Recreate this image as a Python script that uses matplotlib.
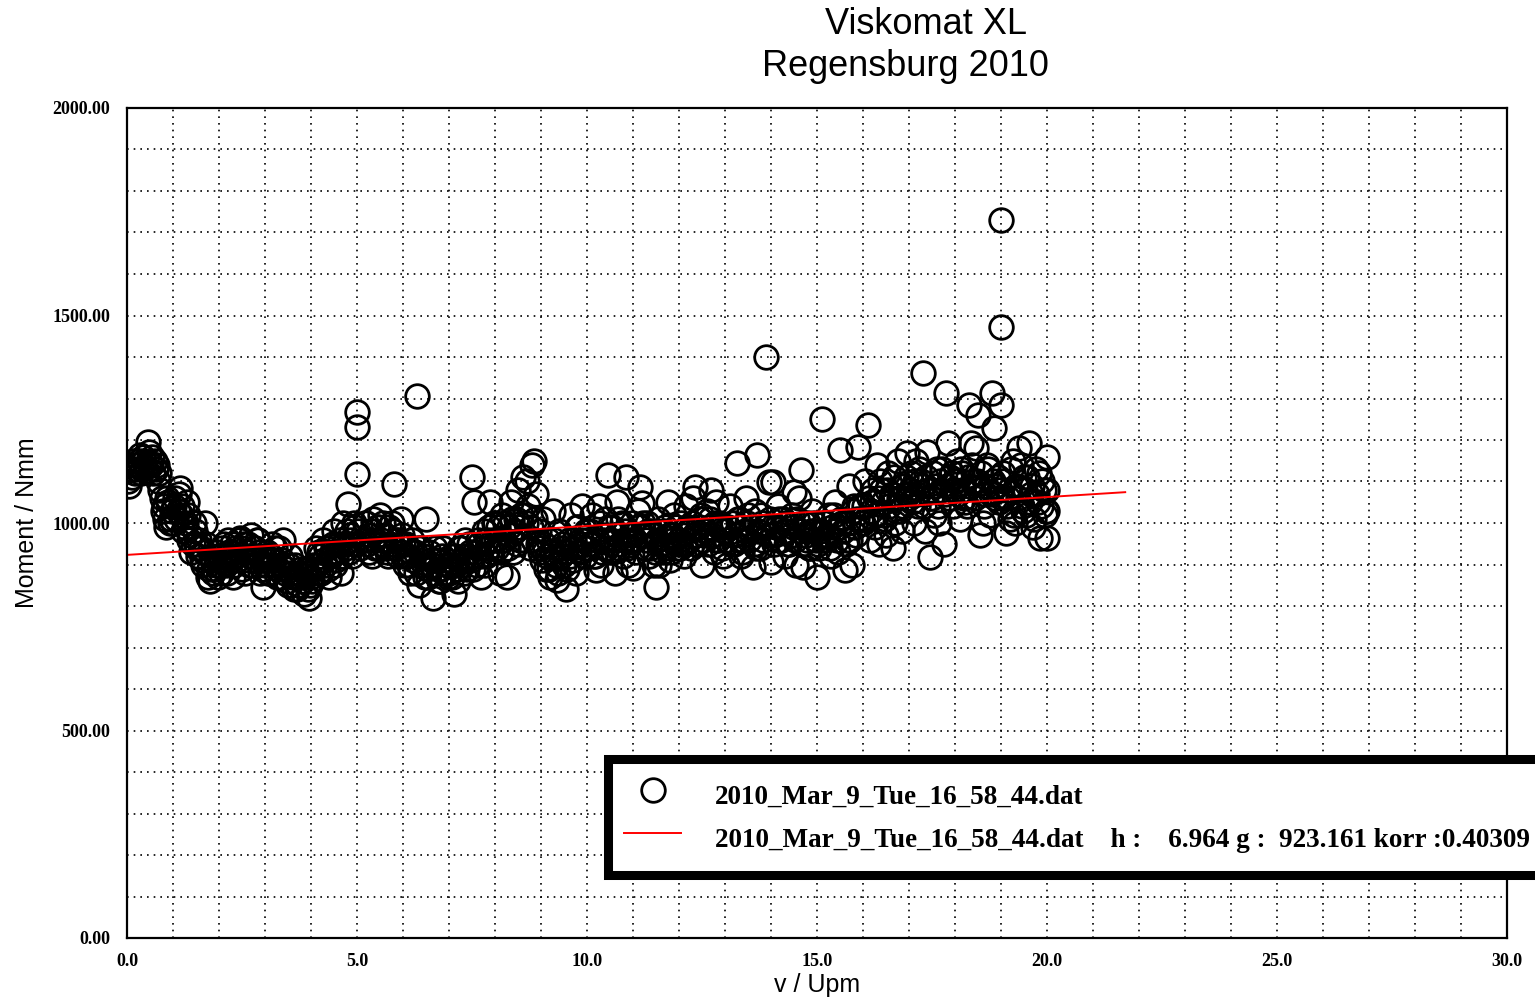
import matplotlib
matplotlib.use("Agg")
import matplotlib.pyplot as plt
from matplotlib.font_manager import FontProperties
from matplotlib.ticker import MultipleLocator, FormatStrFormatter

v_upm = [
    0.00, 0.05, 0.10, 0.15, 0.20, 0.25, 0.30, 0.35, 0.40, 0.45, 0.50, 0.55, 0.60, 0.65, 0.70, 0.75, 0.80, 0.85, 0.90, 0.95,
    1.00, 1.05, 1.10, 1.15, 1.20, 1.25, 1.30, 1.35, 1.40, 1.45, 1.50, 1.55, 1.60, 1.65, 1.70, 1.75, 1.80, 1.85, 1.90, 1.95,
    2.00, 2.05, 2.10, 2.15, 2.20, 2.25, 2.30, 2.35, 2.40, 2.45, 2.50, 2.55, 2.60, 2.65, 2.70, 2.75, 2.80, 2.85, 2.90, 2.95,
    3.00, 3.05, 3.10, 3.15, 3.20, 3.25, 3.30, 3.35, 3.40, 3.45, 3.50, 3.55, 3.60, 3.65, 3.70, 3.75, 3.80, 3.85, 3.90, 3.95,
    4.00, 4.05, 4.10, 4.15, 4.20, 4.25, 4.30, 4.35, 4.40, 4.45, 4.50, 4.55, 4.60, 4.65, 4.70, 4.75, 4.80, 4.85, 4.90, 4.95,
    5.00, 5.00, 5.00, 5.15, 5.20, 5.25, 5.30, 5.35, 5.40, 5.45, 5.50, 5.55, 5.60, 5.65, 5.70, 5.75, 5.80, 5.85, 5.90, 5.95,
    6.00, 6.05, 6.10, 6.15, 6.20, 6.25, 6.30, 6.35, 6.40, 6.45, 6.50, 6.55, 6.60, 6.65, 6.70, 6.75, 6.80, 6.85, 6.90, 6.95,
    7.00, 7.05, 7.10, 7.15, 7.20, 7.25, 7.30, 7.35, 7.40, 7.45, 7.50, 7.55, 7.60, 7.65, 7.70, 7.75, 7.80, 7.85, 7.90, 7.95,
    8.00, 8.05, 8.10, 8.15, 8.20, 8.25, 8.30, 8.35, 8.40, 8.45, 8.50, 8.55, 8.60, 8.65, 8.70, 8.75, 8.80, 8.85, 8.90, 8.95,
    9.00, 9.05, 9.10, 9.15, 9.20, 9.25, 9.30, 9.35, 9.40, 9.45, 9.50, 9.55, 9.60, 9.65, 9.70, 9.75, 9.80, 9.85, 9.90, 9.95,
    10.00, 10.05, 10.10, 10.15, 10.20, 10.25, 10.30, 10.35, 10.40, 10.45, 10.50, 10.55, 10.60, 10.65, 10.70, 10.75, 10.80, 10.85, 10.90, 10.95,
    11.00, 11.05, 11.10, 11.15, 11.20, 11.25, 11.30, 11.35, 11.40, 11.45, 11.50, 11.55, 11.60, 11.65, 11.70, 11.75, 11.80, 11.85, 11.90, 11.95,
    12.00, 12.05, 12.10, 12.15, 12.20, 12.25, 12.30, 12.35, 12.40, 12.45, 12.50, 12.55, 12.60, 12.65, 12.70, 12.75, 12.80, 12.85, 12.90, 12.95,
    13.00, 13.05, 13.10, 13.15, 13.20, 13.25, 13.30, 13.35, 13.40, 13.45, 13.50, 13.55, 13.60, 13.65, 13.70, 13.75, 13.80, 13.85, 13.90, 13.95,
    14.00, 14.05, 14.10, 14.15, 14.20, 14.25, 14.30, 14.35, 14.40, 14.45, 14.50, 14.55, 14.60, 14.65, 14.70, 14.75, 14.80, 14.85, 14.90, 14.95,
    15.00, 15.05, 15.10, 15.15, 15.20, 15.25, 15.30, 15.35, 15.40, 15.45, 15.50, 15.55, 15.60, 15.65, 15.70, 15.75, 15.80, 15.85, 15.90, 15.95,
    16.00, 16.05, 16.10, 16.15, 16.20, 16.25, 16.30, 16.35, 16.40, 16.45, 16.50, 16.55, 16.60, 16.65, 16.70, 16.75, 16.80, 16.85, 16.90, 16.95,
    17.00, 17.05, 17.10, 17.15, 17.20, 17.25, 17.30, 17.35, 17.40, 17.45, 17.50, 17.55, 17.60, 17.65, 17.70, 17.75, 17.80, 17.85, 17.90, 17.95,
    18.00, 18.05, 18.10, 18.15, 18.20, 18.25, 18.30, 18.35, 18.40, 18.45, 18.50, 18.55, 18.60, 18.65, 18.70, 18.75, 18.80, 18.85, 18.90, 18.95,
    19.00, 19.05, 19.10, 19.15, 19.20, 19.25, 19.30, 19.35, 19.40, 19.45, 19.50, 19.55, 19.60, 19.65, 19.70, 19.75, 19.80, 19.85, 19.90, 19.95,
    19.00, 19.00, 20.00, 20.00, 20.00, 20.00,
]
moment_nmm = [
    1125, 1090, 1110, 1140, 1130, 1150, 1120, 1160, 1135, 1195, 1145, 1160, 1150, 1140, 1120, 1060, 1040, 990, 1050, 1010,
    1000, 1060, 1030, 1085, 1040, 990, 1050, 960, 930, 1000, 950, 920, 940, 900, 1000, 870, 860, 910, 890, 930,
    920, 880, 950, 900, 960, 930, 870, 940, 910, 965, 890, 950, 930, 900, 970, 940, 910, 960, 880, 845,
    900, 930, 880, 950, 910, 870, 940, 900, 960, 890, 850, 920, 870, 900, 840, 880, 860, 830, 890, 820,
    870, 900, 940, 880, 920, 960, 900, 940, 870, 930, 980, 910, 950, 880, 1000, 940, 1045, 970, 920, 990,
    1267, 1231, 1118, 960, 1000, 930, 980, 1010, 940, 990, 1020, 950, 970, 930, 990, 1000, 1095, 960, 920, 1010,
    950, 900, 920, 880, 960, 930, 1305, 850, 940, 900, 1010, 870, 910, 820, 940, 890, 860, 920, 880, 900,
    880, 920, 830, 900, 860, 940, 910, 960, 890, 930, 1110, 1050, 900, 950, 870, 980, 920, 940, 1050, 960,
    1000, 940, 880, 1020, 960, 870, 990, 1050, 930, 1010, 1080, 960, 1110, 1020, 1100, 940, 1140, 1150, 1070, 980,
    940, 1010, 890, 960, 870, 1030, 920, 862, 980, 940, 900, 840, 960, 1020, 910, 880, 990, 950, 1040, 920,
    960, 950, 1020, 920, 887, 1040, 900, 960, 1010, 1116, 930, 990, 880, 1050, 940, 1000, 960, 1111, 900, 970,
    892, 960, 1030, 1087, 1048, 940, 1000, 920, 980, 900, 846, 1010, 950, 930, 990, 1050, 910, 970, 1020, 940,
    960, 1000, 920, 1040, 980, 940, 1060, 1087, 950, 1010, 900, 970, 1030, 990, 1080, 930, 1050, 960, 1000, 920,
    980, 899, 1040, 1000, 950, 1145, 1010, 920, 960, 1060, 1020, 980, 894, 1030, 1164, 940, 1000, 990, 1400, 1099,
    906, 1099, 990, 1040, 960, 1010, 920, 980, 950, 1020, 1075, 900, 1060, 1128, 894, 970, 1000, 940, 1030, 980,
    870, 940, 1250, 1000, 960, 1020, 920, 980, 1050, 930, 1176, 1000, 887, 960, 1090, 900, 1040, 970, 1183, 1010,
    1000, 1100, 1236, 960, 1050, 990, 1140, 950, 1080, 1020, 970, 1120, 1060, 940, 1000, 1150, 1030, 980, 1090, 1169,
    1060, 1120, 1000, 1150, 1040, 1100, 1361, 980, 1170, 918, 1060, 1020, 1130, 1000, 1080, 950, 1313, 1193, 1110, 1040,
    1080, 1150, 1010, 1120, 1060, 1040, 1285, 1193, 1100, 1180, 1260, 971, 1000, 1070, 1140, 1020, 1313, 1229, 1090, 1050,
    1730, 1120, 976, 1060, 1010, 1150, 1000, 1090, 1180, 1040, 1110, 1020, 1193, 1070, 990, 1130, 1050, 964, 1100, 1020,
    1472, 1285, 1159, 964, 1030, 1080,
]

# Second pass of the same measurement (in between the first samples)
v_upm_2 = [
    0.025, 0.075, 0.125, 0.175, 0.225, 0.275, 0.325, 0.375, 0.425, 0.475, 0.525, 0.575, 0.625, 0.675, 0.725, 0.775, 0.825, 0.875, 0.925, 0.975,
    1.025, 1.075, 1.125, 1.175, 1.225, 1.275, 1.325, 1.375, 1.425, 1.475, 1.525, 1.575, 1.625, 1.675, 1.725, 1.775, 1.825, 1.875, 1.925, 1.975,
    2.025, 2.075, 2.125, 2.175, 2.225, 2.275, 2.325, 2.375, 2.425, 2.475, 2.525, 2.575, 2.625, 2.675, 2.725, 2.775, 2.825, 2.875, 2.925, 2.975,
    3.025, 3.075, 3.125, 3.175, 3.225, 3.275, 3.325, 3.375, 3.425, 3.475, 3.525, 3.575, 3.625, 3.675, 3.725, 3.775, 3.825, 3.875, 3.925, 3.975,
    4.025, 4.075, 4.125, 4.175, 4.225, 4.275, 4.325, 4.375, 4.425, 4.475, 4.525, 4.575, 4.625, 4.675, 4.725, 4.775, 4.825, 4.875, 4.925, 4.975,
    5.025, 5.075, 5.125, 5.175, 5.225, 5.275, 5.325, 5.375, 5.425, 5.475, 5.525, 5.575, 5.625, 5.675, 5.725, 5.775, 5.825, 5.875, 5.925, 5.975,
    6.025, 6.075, 6.125, 6.175, 6.225, 6.275, 6.325, 6.375, 6.425, 6.475, 6.525, 6.575, 6.625, 6.675, 6.725, 6.775, 6.825, 6.875, 6.925, 6.975,
    7.025, 7.075, 7.125, 7.175, 7.225, 7.275, 7.325, 7.375, 7.425, 7.475, 7.525, 7.575, 7.625, 7.675, 7.725, 7.775, 7.825, 7.875, 7.925, 7.975,
    8.025, 8.075, 8.125, 8.175, 8.225, 8.275, 8.325, 8.375, 8.425, 8.475, 8.525, 8.575, 8.625, 8.675, 8.725, 8.775, 8.825, 8.875, 8.925, 8.975,
    9.025, 9.075, 9.125, 9.175, 9.225, 9.275, 9.325, 9.375, 9.425, 9.475, 9.525, 9.575, 9.625, 9.675, 9.725, 9.775, 9.825, 9.875, 9.925, 9.975,
    10.025, 10.075, 10.125, 10.175, 10.225, 10.275, 10.325, 10.375, 10.425, 10.475, 10.525, 10.575, 10.625, 10.675, 10.725, 10.775, 10.825, 10.875, 10.925, 10.975,
    11.025, 11.075, 11.125, 11.175, 11.225, 11.275, 11.325, 11.375, 11.425, 11.475, 11.525, 11.575, 11.625, 11.675, 11.725, 11.775, 11.825, 11.875, 11.925, 11.975,
    12.025, 12.075, 12.125, 12.175, 12.225, 12.275, 12.325, 12.375, 12.425, 12.475, 12.525, 12.575, 12.625, 12.675, 12.725, 12.775, 12.825, 12.875, 12.925, 12.975,
    13.025, 13.075, 13.125, 13.175, 13.225, 13.275, 13.325, 13.375, 13.425, 13.475, 13.525, 13.575, 13.625, 13.675, 13.725, 13.775, 13.825, 13.875, 13.925, 13.975,
    14.025, 14.075, 14.125, 14.175, 14.225, 14.275, 14.325, 14.375, 14.425, 14.475, 14.525, 14.575, 14.625, 14.675, 14.725, 14.775, 14.825, 14.875, 14.925, 14.975,
    15.025, 15.075, 15.125, 15.175, 15.225, 15.275, 15.325, 15.375, 15.425, 15.475, 15.525, 15.575, 15.625, 15.675, 15.725, 15.775, 15.825, 15.875, 15.925, 15.975,
    16.025, 16.075, 16.125, 16.175, 16.225, 16.275, 16.325, 16.375, 16.425, 16.475, 16.525, 16.575, 16.625, 16.675, 16.725, 16.775, 16.825, 16.875, 16.925, 16.975,
    17.025, 17.075, 17.125, 17.175, 17.225, 17.275, 17.325, 17.375, 17.425, 17.475, 17.525, 17.575, 17.625, 17.675, 17.725, 17.775, 17.825, 17.875, 17.925, 17.975,
    18.025, 18.075, 18.125, 18.175, 18.225, 18.275, 18.325, 18.375, 18.425, 18.475, 18.525, 18.575, 18.625, 18.675, 18.725, 18.775, 18.825, 18.875, 18.925, 18.975,
    19.025, 19.075, 19.125, 19.175, 19.225, 19.275, 19.325, 19.375, 19.425, 19.475, 19.525, 19.575, 19.625, 19.675, 19.725, 19.775, 19.825, 19.875, 19.925, 19.975,
]
moment_nmm_2 = [
    1100, 1130, 1150, 1120, 1140, 1165, 1130, 1150, 1125, 1170, 1140, 1120, 1130, 1100, 1080, 1030, 1010, 1060, 1000, 1030,
    1040, 1010, 1070, 1020, 980, 1000, 1020, 970, 950, 980, 940, 960, 910, 930, 950, 890, 920, 880, 900, 870,
    900, 940, 910, 880, 930, 950, 900, 920, 960, 940, 910, 880, 950, 920, 900, 940, 960, 930, 890, 920,
    910, 880, 920, 900, 940, 890, 870, 910, 880, 860, 900, 880, 840, 870, 850, 890, 860, 880, 840, 850,
    860, 890, 900, 930, 880, 910, 940, 890, 920, 950, 900, 930, 960, 920, 950, 980, 930, 960, 1000, 950,
    980, 940, 960, 1000, 950, 970, 920, 960, 990, 940, 960, 1000, 940, 920, 950, 980, 940, 960, 930, 970,
    920, 950, 900, 930, 910, 880, 940, 900, 920, 870, 890, 930, 900, 880, 910, 860, 890, 940, 910, 870,
    900, 870, 920, 890, 940, 900, 880, 920, 950, 910, 890, 930, 960, 920, 940, 900, 960, 990, 930, 1000,
    960, 990, 930, 960, 1000, 940, 970, 1010, 980, 950, 990, 1020, 960, 1000, 1040, 990, 960, 1010, 950, 930,
    910, 950, 920, 890, 930, 960, 900, 880, 920, 950, 930, 890, 920, 940, 960, 990, 930, 960, 940, 980,
    940, 980, 950, 920, 960, 1000, 930, 970, 940, 990, 960, 930, 970, 1010, 950, 920, 980, 940, 960, 1000,
    960, 930, 990, 970, 1000, 960, 980, 940, 970, 930, 960, 900, 950, 980, 940, 970, 930, 960, 990, 950,
    940, 970, 950, 990, 960, 1000, 970, 950, 990, 1020, 960, 980, 950, 1010, 970, 1000, 960, 990, 940, 980,
    960, 990, 950, 1000, 970, 1010, 960, 930, 980, 1000, 960, 990, 950, 940, 980, 1020, 960, 990, 970, 1010,
    970, 950, 990, 1010, 960, 980, 1000, 950, 970, 990, 960, 1010, 980, 950, 1000, 960, 940, 980, 1000, 960,
    950, 980, 960, 1000, 970, 940, 990, 1020, 960, 990, 1010, 980, 950, 1000, 960, 1030, 990, 1010, 1040, 1000,
    1040, 1010, 1060, 1030, 1080, 1020, 1060, 1100, 1050, 1010, 1080, 1040, 1070, 1110, 1030, 1060, 1090, 1040, 1110, 1070,
    1080, 1050, 1100, 1070, 1130, 1090, 1040, 1110, 1080, 1060, 1120, 1090, 1040, 1100, 1130, 1070, 1090, 1060, 1120, 1100,
    1100, 1070, 1130, 1080, 1050, 1110, 1090, 1140, 1060, 1100, 1080, 1120, 1040, 1090, 1130, 1070, 1100, 1060, 1110, 1080,
    1060, 1100, 1040, 1080, 1130, 1020, 1090, 1060, 1140, 1030, 1080, 1110, 1050, 1090, 1010, 1070, 1120, 1040, 1080, 1030,
]

# Linear fit reported in the legend
fit_h = 6.964
fit_g = 923.161
fit_korr = 0.40309
fit_x = [0.0, 21.7]

file_name = "2010_Mar_9_Tue_16_58_44.dat"

fig = plt.figure(figsize=(15.35, 10.01), dpi=100)
ax = fig.add_axes([127 / 1535, 1 - 938 / 1001, 1380 / 1535, 830 / 1001])

points, = ax.plot(v_upm + v_upm_2, moment_nmm + moment_nmm_2, linestyle="none", marker="o",
                  markersize=17, markerfacecolor="none", markeredgecolor="black", markeredgewidth=2.0)
fit_y = [fit_g + fit_h * x for x in fit_x]
fit_line, = ax.plot(fit_x, fit_y, color="red", linewidth=1.4)

ax.set_xlim(0, 30)
ax.set_ylim(0, 2000)
ax.xaxis.set_major_locator(MultipleLocator(5))
ax.xaxis.set_minor_locator(MultipleLocator(1))
ax.yaxis.set_major_locator(MultipleLocator(500))
ax.yaxis.set_minor_locator(MultipleLocator(100))
ax.xaxis.set_major_formatter(FormatStrFormatter("%.1f"))
ax.yaxis.set_major_formatter(FormatStrFormatter("%.2f"))
ax.grid(which="both", color="black", linestyle=(0, (1, 3)), linewidth=1.2)
ax.tick_params(which="both", length=0)
ax.tick_params(axis="x", pad=11)
ax.tick_params(axis="y", pad=12)
for lab in ax.get_xticklabels() + ax.get_yticklabels():
    lab.set_fontfamily("Liberation Serif")
    lab.set_fontweight("bold")
    lab.set_fontsize(13)
for sp in ax.spines.values():
    sp.set_linewidth(1.6)

ax.set_xlabel("v / Upm", fontfamily="Liberation Sans", fontsize=18, labelpad=2)
ax.set_ylabel("Moment / Nmm", fontfamily="Liberation Sans", fontsize=18, labelpad=10)

fig.text(926 / 1535, 1 - 25 / 1001, "Viskomat XL", ha="center", va="center",
         fontfamily="Liberation Sans", fontsize=26)
fig.text(905 / 1535, 1 - 66 / 1001, "Regensburg 2010", ha="center", va="center",
         fontfamily="Liberation Sans", fontsize=26)

# Legend box runs past the right edge of the figure, as in the original
fit_label = f"{file_name}    h :    {fit_h:.3f} g :  {fit_g:.3f} korr :{fit_korr:.5f}"
leg = ax.legend([points, fit_line], [file_name, fit_label],
                loc="upper left", bbox_to_anchor=(608 / 1535, 1 - 759 / 1001),
                bbox_transform=fig.transFigure, borderaxespad=0,
                fancybox=False, framealpha=1, edgecolor="black",
                handlelength=2.1, handleheight=1.9, handletextpad=1.25,
                borderpad=0.6, labelspacing=0.12,
                prop=FontProperties(family="Liberation Serif", weight="bold", size=19.5))
leg.get_frame().set_linewidth(6.5)

fig.savefig("out.png", dpi=100)
